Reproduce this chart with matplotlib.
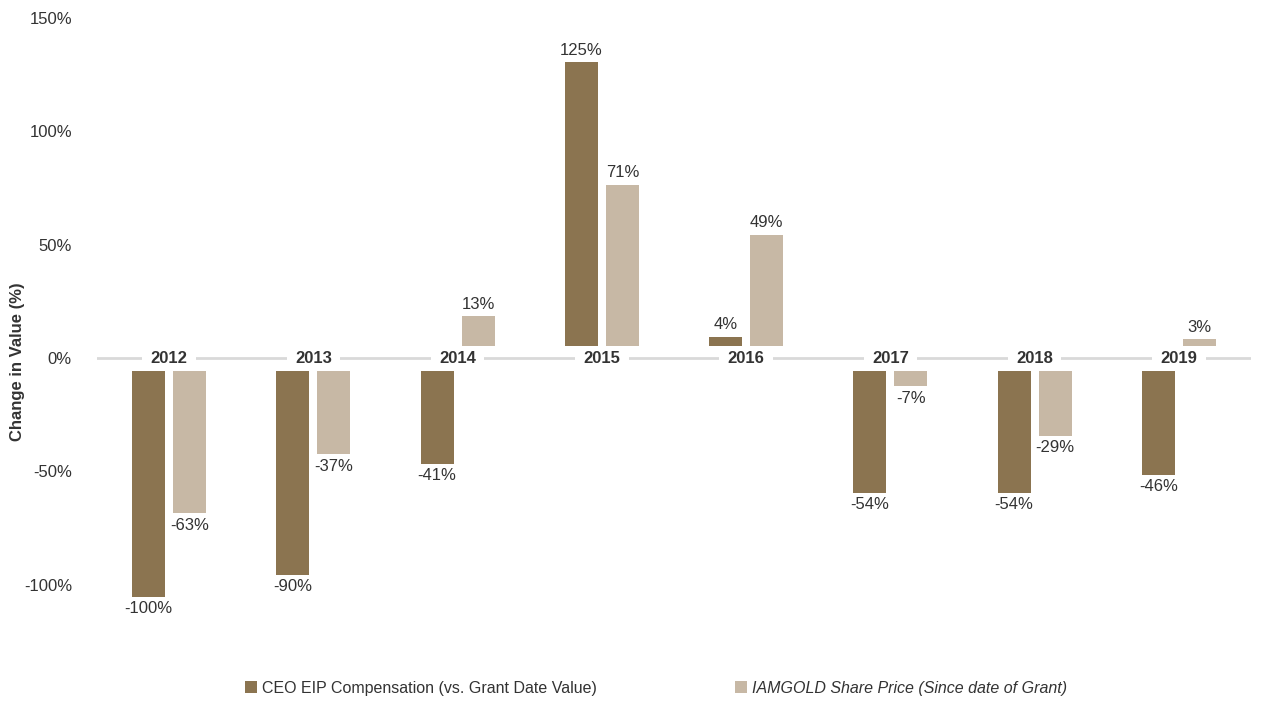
import matplotlib.pyplot as plt
import numpy as np

plt.rcParams['font.family'] = ['Liberation Sans', 'DejaVu Sans']

years = ['2012', '2013', '2014', '2015', '2016', '2017', '2018', '2019']
ceo_eip = [-100, -90, -41, 125, 4, -54, -54, -46]
share_price = [-63, -37, 13, 71, 49, -7, -29, 3]
series_names = ['CEO EIP Compensation (vs. Grant Date Value)',
                'IAMGOLD Share Price (Since date of Grant)']

dark = '#8B7450'
light = '#C7B8A5'
text_col = '#333333'

W, H = 1261, 703
fig = plt.figure(figsize=(W / 100, H / 100), dpi=100)

# axes placed in pixel terms: 150% at y=18, zero at y=357
px_per_pct = (587 - 18) / 250
y_top, y_bot = 150, -125
top_px = 18
bot_px = 357 + 125 * px_per_pct
left_px, right_px = 97, 1251
ax = fig.add_axes([left_px / W, 1 - bot_px / H,
                   (right_px - left_px) / W, (bot_px - top_px) / H])
ax.set_ylim(y_bot, y_top)
ax.set_xlim(-0.5, 7.5)

# bars sit off the zero line so the year labels have room
gap = 5.5
x = np.arange(len(years))
width = 0.23
off = 0.142


def draw(vals, dx, color, label):
    vals = np.array(vals, dtype=float)
    base = np.where(vals >= 0, gap, -gap)
    bars = ax.bar(x + dx, vals, width=width, bottom=base, color=color,
                  label=label, zorder=4)
    for xi, v, b in zip(x + dx, vals, base):
        end = b + v
        if v >= 0:
            ax.annotate(f'{v:.0f}%', (xi, end), xytext=(0, 3),
                        textcoords='offset points', ha='center', va='bottom',
                        fontsize=12, color=text_col)
        else:
            ax.annotate(f'{v:.0f}%', (xi, end), xytext=(0, -3),
                        textcoords='offset points', ha='center', va='top',
                        fontsize=12, color=text_col)
    return bars


b1 = draw(ceo_eip, -off, dark, series_names[0])
b2 = draw(share_price, off, light, series_names[1])

ax.axhline(0, color='#d9d9d9', linewidth=2, zorder=1)
for xi, yr in zip(x, years):
    ax.text(xi, 0, yr, ha='center', va='center', fontsize=12,
            fontweight='bold', color=text_col, zorder=3,
            bbox=dict(facecolor='white', edgecolor='none', pad=6))

ax.set_yticks([-100, -50, 0, 50, 100, 150])
ax.set_yticklabels([f'{t}%' for t in [-100, -50, 0, 50, 100, 150]],
                   fontsize=12, color=text_col)
ax.tick_params(axis='y', length=0, pad=18)
ax.set_xticks([])
for s in ax.spines.values():
    s.set_visible(False)

fig.text(18 / W, 1 - 362 / H, 'Change in Value (%)', rotation=90,
         ha='center', va='center', fontsize=12, fontweight='bold',
         color=text_col)

leg = fig.legend(handles=[b1, b2], loc='center',
                 bbox_to_anchor=(656 / W, 1 - 688 / H), ncol=2,
                 frameon=False, fontsize=11.5, handlelength=0.75,
                 handleheight=0.75, handletextpad=0.35, columnspacing=8.6)
for t in leg.get_texts():
    t.set_color(text_col)
leg.get_texts()[1].set_style('italic')

fig.savefig('out.png', dpi=100)
